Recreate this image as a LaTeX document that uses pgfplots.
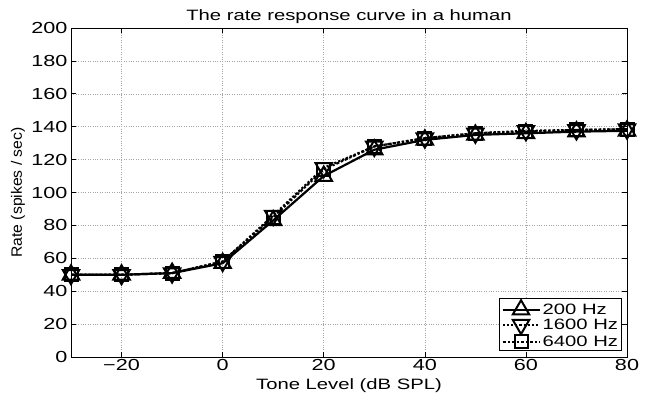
\documentclass[border=0pt]{standalone}
\usepackage{pgfplots}
\pgfplotsset{compat=1.18}
\usepackage{fontspec}
\setmainfont{Liberation Sans}[FakeStretch=1.35]
\newfontfamily\ylfont{Liberation Sans}[FakeStretch=1.05]
\usetikzlibrary{calc}
\pgfplotstableread{
x r200 r1600 r6400
-30 50 50 50
-20 50 50 50
-10 51 51 51
0 57 58 58
10 83 86 85
20 110 115 114
30 126 128 128
40 132 133 133
50 135 136 136
60 136 137.5 137
70 137 138 138
80 137.5 138.5 138.5
}\datatable
\begin{document}
\begin{tikzpicture}
\begin{axis}[name=ax,
  scale only axis, width=556pt, height=329pt,
  xmin=-30, xmax=80, ymin=0, ymax=200,
  xtick={-20,0,...,80}, ytick={0,20,...,200},
  xticklabels={−20,0,20,40,60,80},
  tick align=inside, tick style={black, line width=0.6pt},
  major tick length=5pt,
  axis line style={black, line width=0.9pt},
  grid=major, grid style={dotted, gray!70, line width=0.5pt},
  /pgf/number format/assume math mode=true,
  ticklabel style={font=\fontsize{16}{18}\selectfont},
  xticklabel style={yshift=-1.5pt, inner ysep=1pt},
  label style={font=\fontsize{15}{17}\selectfont},
  title style={font=\fontsize{15}{17}\selectfont, yshift=-5pt},
  title={The rate response curve in a human},
  xlabel={Tone Level (dB SPL)},
  ylabel={\ylfont Rate (spikes / sec)},
  xlabel style={at={(axis description cs:0.5,-0.086)}, anchor=center, inner ysep=1pt},
  ylabel style={at={(axis description cs:-0.0953,0.5)}, anchor=center},
  legend style={font=\fontsize{15}{17}\selectfont, draw=black, line width=0.9pt, at={(0.991,0.018)}, anchor=south east, inner sep=1.5pt, row sep=0pt, nodes={inner ysep=1.5pt}},
  legend cell align=left,
  legend image code/.code={\draw[mark repeat=2,mark phase=2] plot coordinates {(0cm,0cm) (0.65cm,0cm) (1.3cm,0cm)};},
]
\addplot[black, line width=2.2pt, mark=triangle, mark size=9.5pt, mark options={solid, line width=2pt}] table[x=x, y=r200] {\datatable};
\addlegendentry{200 Hz}
\addplot[black, line width=2.2pt, dotted, mark=triangle, mark size=9.5pt, mark options={solid, rotate=180, line width=2pt}] table[x=x, y=r1600] {\datatable};
\addlegendentry{1600 Hz}
\addplot[black, line width=2.2pt, dash dot, mark=square, mark size=6.5pt, mark options={solid, line width=2pt}] table[x=x, y=r6400] {\datatable};
\addlegendentry{6400 Hz}
\end{axis}
\pgfresetboundingbox
\path ($(ax.south west)+(-71pt,-41pt)$) rectangle ($(ax.north east)+(23pt,28pt)$);
\end{tikzpicture}
\end{document}
